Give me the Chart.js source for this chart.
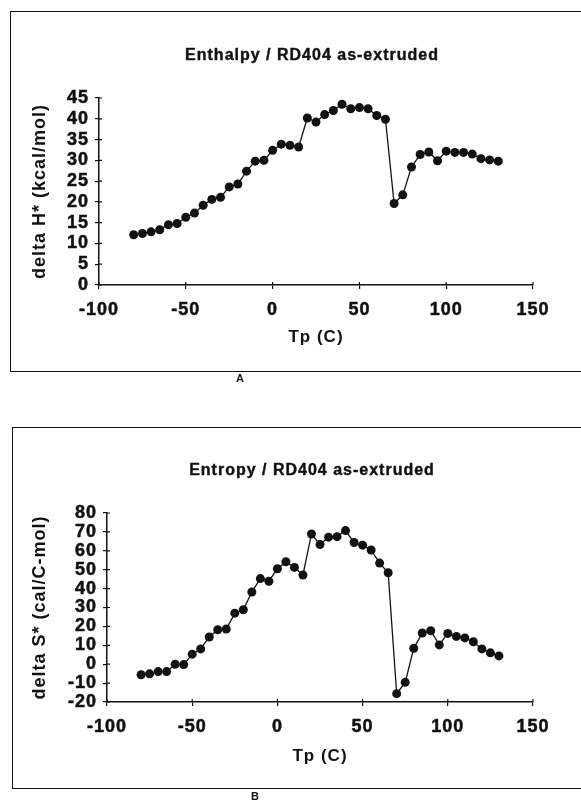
<!DOCTYPE html>
<html>
<head>
<meta charset="utf-8">
<title>RD404 as-extruded: enthalpy and entropy vs Tp</title>
<script src="https://cdn.jsdelivr.net/npm/chart.js@4/dist/chart.umd.min.js"></script>
<style>
  html, body { margin: 0; padding: 0; background: #fff; }
  body { width: 581px; height: 803px; position: relative; overflow: hidden;
         font-family: "Liberation Sans", Arial, sans-serif; }
  .frame { position: absolute; border: 1.5px solid #111; border-right: none; }
  #frameA { left: 10px; top: 11px; width: 600px; height: 359px; }
  #frameB { left: 12px; top: 427px; width: 600px; height: 360px; }
  .wrap { position: absolute; left: 0; width: 581px; }
  #wrapA { top: 0; height: 380px; }
  #wrapB { top: 400px; height: 403px; }
  .tag { position: absolute; font-weight: bold; font-size: 11px; color: #111; }
</style>
</head>
<body>
<div class="frame" id="frameA"></div>
<div class="frame" id="frameB"></div>
<div class="wrap" id="wrapA"><canvas id="chartA" width="581" height="380"></canvas></div>
<div class="wrap" id="wrapB"><canvas id="chartB" width="581" height="403"></canvas></div>
<div class="tag" style="left:236px;top:372px;">A</div>
<div class="tag" style="left:251px;top:790px;">B</div>

<script>
// Peak temperature Tp (C)
const tempC = [-80, -75, -70, -65, -60, -55, -50, -45, -40, -35, -30, -25, -20, -15, -10, -5,
               0, 5, 10, 15, 20, 25, 30, 35, 40, 45, 50, 55, 60, 65,
               70, 75, 80, 85, 90, 95, 100, 105, 110, 115, 120, 125, 130];

// delta H* (kcal/mol)
const enthalpy = [12.1, 12.4, 12.8, 13.3, 14.5, 14.8, 16.3, 17.3, 19.2, 20.6, 21.1, 23.6, 24.3, 27.4, 29.8, 30.0,
                  32.4, 33.9, 33.6, 33.2, 40.2, 39.2, 41.0, 42.0, 43.5, 42.4, 42.7, 42.4, 40.8, 39.9,
                  19.6, 21.7, 28.4, 31.4, 32.0, 29.9, 32.2, 31.9, 31.9, 31.5, 30.4, 30.1, 29.8];

// delta S* (cal/C-mol)
const entropy = [-5.6, -5.1, -3.9, -3.9, 0.0, -0.2, 5.3, 8.1, 14.4, 18.2, 18.6, 27.0, 28.8, 38.2, 45.3, 43.9,
                 50.5, 54.2, 51.2, 47.2, 68.9, 63.3, 67.2, 67.5, 70.7, 64.4, 63.0, 60.4, 53.5, 48.4,
                 -15.6, -9.6, 8.4, 16.5, 17.7, 10.2, 16.3, 14.7, 13.9, 11.9, 8.1, 6.0, 4.4];

// Axis tick labels
const xTicks = [-100, -50, 0, 50, 100, 150];
const yTicksH = [0, 5, 10, 15, 20, 25, 30, 35, 40, 45];
const yTicksS = [-20, -10, 0, 10, 20, 30, 40, 50, 60, 70, 80];

const FONT = '"Liberation Sans", Arial, Helvetica, sans-serif';
const INK = '#111';

// Wider tracking for all canvas text
const tracking = {
  id: 'tracking',
  beforeLayout(chart) { chart.ctx.letterSpacing = '1px'; },
  beforeDraw(chart) { chart.ctx.letterSpacing = '1px'; }
};

// Panel heading, centred over the plot rather than the whole canvas
const heading = {
  id: 'heading',
  afterDraw(chart, args, opts) {
    const ctx = chart.ctx;
    ctx.save();
    ctx.letterSpacing = '1px';
    ctx.fillStyle = INK;
    ctx.strokeStyle = INK;
    ctx.lineWidth = 0.4;
    ctx.font = 'bold 16px ' + FONT;
    ctx.textAlign = 'center';
    ctx.textBaseline = 'middle';
    ctx.fillText(opts.text, opts.x, opts.y);
    ctx.strokeText(opts.text, opts.x, opts.y);
    ctx.restore();
  }
};

// Tick marks that cross the axis line (inner half)
const crossTicks = {
  id: 'crossTicks',
  afterDraw(chart) {
    const ctx = chart.ctx;
    const xs = chart.scales.x, ys = chart.scales.y;
    ctx.save();
    ctx.strokeStyle = INK;
    ctx.lineWidth = 1.2;
    ctx.beginPath();
    ys.ticks.forEach(t => {
      const py = ys.getPixelForValue(t.value);
      ctx.moveTo(xs.left, py); ctx.lineTo(xs.left + 3, py);
    });
    xs.ticks.forEach(t => {
      const px = xs.getPixelForValue(t.value);
      ctx.moveTo(px, ys.bottom); ctx.lineTo(px, ys.bottom - 3);
    });
    ctx.stroke();
    ctx.restore();
  }
};

function makeChart(id, cfg) {
  const points = tempC.map((t, i) => ({ x: t, y: cfg.values[i] }));
  const tickFont = { family: FONT, size: 18, weight: 'bold', lineHeight: 1.2 };
  const titleFont = { family: FONT, size: 17, weight: 'bold', lineHeight: 1.2 };
  return new Chart(document.getElementById(id), {
    type: 'scatter',
    data: {
      datasets: [{
        data: points,
        showLine: true,
        borderColor: INK,
        borderWidth: 1.3,
        backgroundColor: INK,
        pointRadius: 4.5,
        pointBorderWidth: 0,
        pointBackgroundColor: INK,
        tension: 0
      }]
    },
    plugins: [tracking, heading, crossTicks],
    options: {
      responsive: false,
      animation: false,
      events: [],
      layout: { padding: { left: 0, right: 48, top: cfg.plotTop, bottom: cfg.padBottom } },
      plugins: {
        legend: { display: false },
        tooltip: { enabled: false },
        title: { display: false },
        heading: { text: cfg.title, x: 312, y: cfg.titleY }
      },
      scales: {
        x: {
          type: 'linear',
          min: xTicks[0],
          max: xTicks[xTicks.length - 1],
          afterBuildTicks: s => { s.ticks = xTicks.map(v => ({ value: v })); },
          afterFit: s => { s.height = cfg.xHeight; },
          grid: { display: true, drawOnChartArea: false, drawTicks: true, tickLength: 4, color: INK, lineWidth: 1.2 },
          border: { display: true, color: INK, width: 1.5 },
          ticks: { color: INK, padding: 10, maxRotation: 0, autoSkip: false,
                   textStrokeColor: INK, textStrokeWidth: 0.5, font: tickFont },
          title: {
            display: true, text: 'Tp (C)', color: INK, font: titleFont,
            padding: { top: 0, bottom: cfg.xTitleBottom }
          }
        },
        y: {
          type: 'linear',
          min: cfg.yTicks[0],
          max: cfg.yTicks[cfg.yTicks.length - 1],
          afterBuildTicks: s => { s.ticks = cfg.yTicks.map(v => ({ value: v })); },
          afterFit: s => { s.width = cfg.yWidth; },
          grid: { display: true, drawOnChartArea: false, drawTicks: true, tickLength: 4, color: INK, lineWidth: 1.2 },
          border: { display: true, color: INK, width: 1.5 },
          ticks: { color: INK, padding: 6, autoSkip: false,
                   textStrokeColor: INK, textStrokeWidth: 0.5,
                   font: { family: FONT, size: 18, weight: 'bold', lineHeight: 1.0 } },
          title: {
            display: true, text: cfg.yTitle, color: INK,
            font: { family: FONT, size: 18, weight: 'bold', lineHeight: 1.2 },
            padding: { top: 29.5, bottom: 0 }
          }
        }
      }
    }
  });
}

makeChart('chartA', {
  values: enthalpy,
  yTicks: yTicksH,
  title: 'Enthalpy / RD404 as-extruded',
  yTitle: 'delta H* (kcal/mol)',
  titleY: 56, plotTop: 98,
  yWidth: 99, xHeight: 75, xTitleBottom: 12.5, padBottom: 20
});

makeChart('chartB', {
  values: entropy,
  yTicks: yTicksS,
  title: 'Entropy / RD404 as-extruded',
  yTitle: 'delta S* (cal/C-mol)',
  titleY: 71, plotTop: 113,
  yWidth: 107, xHeight: 80, xTitleBottom: 15.5, padBottom: 21
});
</script>
</body>
</html>
